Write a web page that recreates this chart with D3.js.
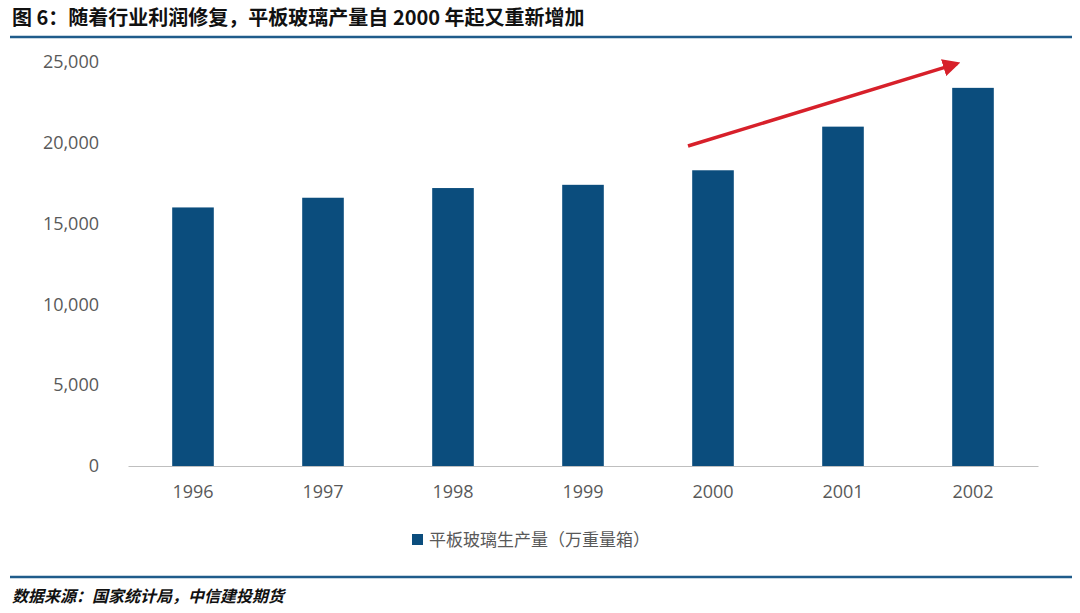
<!DOCTYPE html>
<html><head><meta charset="utf-8">
<script src="https://cdn.jsdelivr.net/npm/d3@7"></script>
<style>body{margin:0;background:#fff}</style>
</head><body>
<svg id="c" width="1080" height="613"></svg>
<script>
var years = ['1996','1997','1998','1999','2000','2001','2002'];
var output = [16000, 16600, 17200, 17400, 18300, 21000, 23400];
var yTicks = [0, 5000, 10000, 15000, 20000, 25000];
var seriesName = '平板玻璃生产量（万重量箱）';
var titleText = '图 6：随着行业利润修复，平板玻璃产量自 2000 年起又重新增加';
var sourceText = '数据来源：国家统计局，中信建投期货';

var svg = d3.select('#c'),
    font = '"Noto Sans CJK SC","Noto Sans",sans-serif',
    barColor = '#0b4d7d';

svg.append('text').attr('x', 12).attr('y', 25).text(titleText)
    .style('font-family', font).style('font-size', '20px').style('font-weight', 'bold').attr('fill', '#111');
svg.append('line').attr('x1', 10).attr('x2', 1072).attr('y1', 37).attr('y2', 37).attr('stroke', '#1f5c8b').attr('stroke-width', 2.5);
svg.append('line').attr('x1', 10).attr('x2', 1072).attr('y1', 577).attr('y2', 577).attr('stroke', '#1f5c8b').attr('stroke-width', 2.5);
svg.append('text').attr('x', 12).attr('y', 602).text(sourceText)
    .style('font-family', font).style('font-size', '16px').style('font-weight', 'bold').style('font-style', 'italic').attr('fill', '#111');

var x = d3.scaleBand().domain(years).range([128, 1038]).paddingInner(0.68).paddingOuter(0.34),
    y = d3.scaleLinear().domain([0, 25000]).range([466, 62]);

svg.append('g').attr('transform', 'translate(102,0)')
    .call(d3.axisLeft(y).tickValues(yTicks).tickSize(0).tickFormat(d3.format(',')))
    .call(function(g) {
        g.select('.domain').remove();
        g.selectAll('text').attr('fill', '#595959').style('font-family', '"Open Sans",sans-serif').style('font-size', '18px');
    });

svg.selectAll('rect.bar').data(output).enter().append('rect').attr('class', 'bar')
    .attr('x', function(d, i) { return x(years[i]); })
    .attr('width', x.bandwidth())
    .attr('y', function(d) { return y(d); })
    .attr('height', function(d) { return y(0) - y(d); })
    .attr('fill', barColor);

svg.append('g').attr('transform', 'translate(0,' + y(0) + ')')
    .call(d3.axisBottom(x).tickSize(0).tickPadding(19))
    .call(function(g) {
        g.select('.domain').attr('stroke', '#bfbfbf');
        g.selectAll('text').attr('fill', '#595959').style('font-family', '"Open Sans",sans-serif').style('font-size', '18px');
    });

// arrow
var defs = svg.append('defs');
defs.append('marker').attr('id', 'ah').attr('viewBox', '0 0 10 10').attr('refX', 8).attr('refY', 5)
    .attr('markerWidth', 5).attr('markerHeight', 5).attr('orient', 'auto')
    .append('path').attr('d', 'M0,0L10,5L0,10z').attr('fill', '#d7202a');
var cx = function(yr) { return x(yr) + x.bandwidth() / 2; };
svg.append('line').attr('x1', cx('2000') - 25).attr('y1', y(19800))
    .attr('x2', cx('2002') - 16).attr('y2', y(24900))
    .attr('stroke', '#d7202a').attr('stroke-width', 3.5).attr('marker-end', 'url(#ah)');

// legend
svg.append('rect').attr('x', 412).attr('y', 534).attr('width', 11).attr('height', 11).attr('fill', barColor);
svg.append('text').attr('x', 429).attr('y', 546).text(seriesName)
    .style('font-family', font).style('font-size', '17px').attr('fill', '#595959');
</script>
</body></html>
